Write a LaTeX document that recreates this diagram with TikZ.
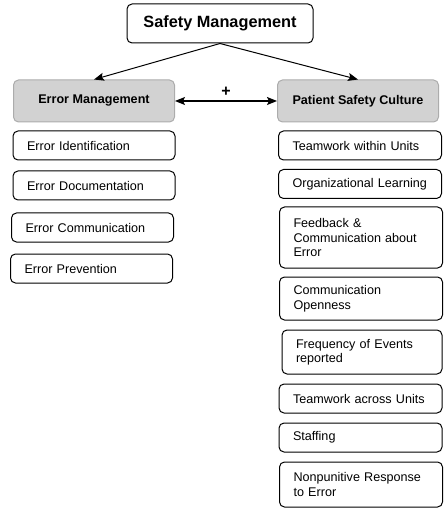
\documentclass[tikz,border=0pt]{standalone}
\usepackage{fontspec}
\setmainfont{Liberation Sans}
\usetikzlibrary{arrows.meta}

\begin{document}
\begin{tikzpicture}[x=1pt, y=-1pt, >={Stealth[length=10pt, width=8pt, inset=2pt]},
    box/.style={draw, line width=1pt, rounded corners=5pt, font=\fontsize{12.6}{14.5}\selectfont},
    headbox/.style={box, draw=gray!65, fill=gray!35, font=\fontsize{12.6}{14.5}\selectfont\bfseries,
        minimum width=161pt, minimum height=42pt, inner sep=0pt},
    leftitem/.style={box, align=left, inner xsep=14pt, inner ysep=0pt, text width=134pt, minimum height=29pt},
    rightitem/.style={box, align=left, inner xsep=14pt, inner ysep=0pt, text width=135pt, minimum height=29pt}]
    \useasboundingbox (0,0) rectangle (447,510);
    \node[box, font=\fontsize{16.3}{18}\selectfont\bfseries, minimum width=186pt, minimum height=39pt, inner sep=0pt]
        (safety) at (220,23.5) {Safety Management};
    \node[headbox] (errmgmt) at (94,101) {Error Management};
    \node[headbox] (culture) at (358,101) {Patient Safety Culture};
    \draw[->, line width=1pt] (safety.south) -- (errmgmt.north);
    \draw[->, line width=1pt] (safety.south) -- (culture.north);
    \draw[<->, line width=1.2pt] (errmgmt.east) -- (culture.west)
        node[midway, above, yshift=1pt, font=\fontsize{16}{18}\selectfont\bfseries] (plus) {+};
    % error management
    \node[leftitem] (ident) at (94,145.5) {Error Identification};
    \node[leftitem] (docu) at (94,185.5) {Error Documentation};
    \node[leftitem] (comm) at (92.5,227.5) {Error Communication};
    \node[leftitem] (prev) at (91.5,268.5) {Error Prevention};
    % patient safety culture
    \node[rightitem] (within) at (360,145.5) {Teamwork within Units};
    \node[rightitem] (learning) at (360,184) {Organizational Learning};
    \node[rightitem, minimum height=61pt] (feedback) at (361,237.5) {Feedback \&\\Communication about\\Error};
    \node[rightitem, minimum height=43pt] (openness) at (361,298.5) {Communication\\Openness};
    \node[rightitem, minimum height=44pt, text width=132pt] (events) at (362,352) {Frequency of Events\\reported};
    \node[rightitem] (across) at (360.5,398.5) {Teamwork across Units};
    \node[rightitem] (staffing) at (360.5,437.5) {Staffing};
    \node[rightitem, minimum height=45pt] (response) at (361,484.5) {Nonpunitive Response\\to Error};
\end{tikzpicture}
\end{document}
